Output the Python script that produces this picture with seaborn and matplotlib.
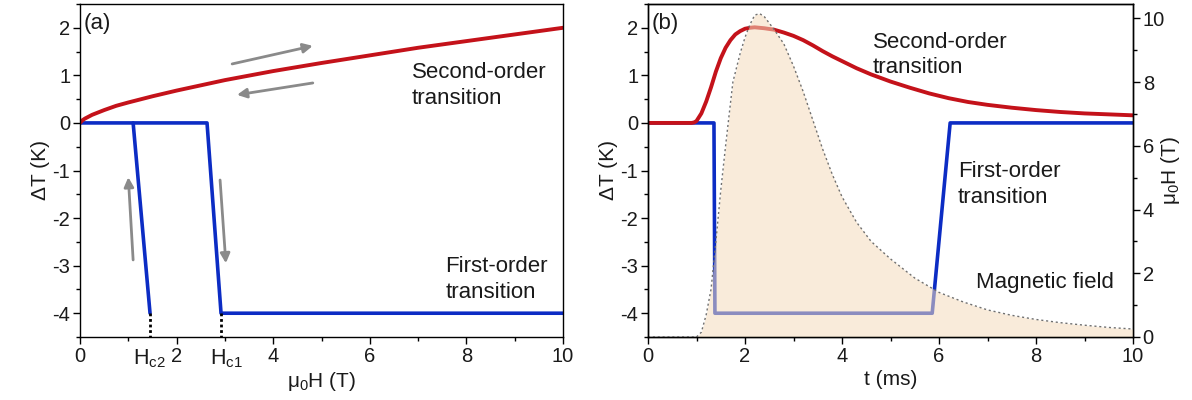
import matplotlib
matplotlib.use("Agg")
import matplotlib.pyplot as plt
import matplotlib.transforms as mtransforms
from matplotlib.ticker import MultipleLocator
import seaborn as sns

# ---------------- data ----------------
# (a) second-order: dT vs field
H_so = [0, 0.05, 0.1, 0.25, 0.5, 0.75, 1, 1.5, 2, 2.5, 3, 4, 5, 6, 7, 8, 9, 10]
dT_so = [0, 0.055, 0.09, 0.17, 0.27, 0.36, 0.43, 0.56, 0.68, 0.79, 0.90, 1.09,
         1.26, 1.42, 1.58, 1.72, 1.86, 2.0]
# (a) first-order hysteresis loop
H_fo_up = [0, 2.63, 2.92, 10]
dT_fo_up = [0, 0, -4, -4]
H_fo_down = [1.10, 1.45]
dT_fo_down = [0, -4]
Hc_values = [1.45, 2.92]
Hc_labels = ["H$_{c2}$", "H$_{c1}$"]

# (b) time dependence
t_so = [0, 0.9, 0.95, 1.0, 1.1, 1.2, 1.3, 1.4, 1.5, 1.6, 1.7, 1.8, 1.9, 2.0,
        2.1, 2.2, 2.3, 2.4, 2.6, 2.8, 3.0, 3.2, 3.4, 3.6, 3.8, 4.0, 4.3, 4.6,
        5.0, 5.4, 5.8, 6.2, 6.6, 7.0, 7.5, 8, 8.5, 9, 9.5, 10]
dTt_so = [0, 0, 0.01, 0.04, 0.2, 0.45, 0.75, 1.08, 1.36, 1.58, 1.74, 1.86,
          1.93, 1.98, 2.0, 2.01, 2.0, 1.99, 1.96, 1.9, 1.83, 1.74, 1.63, 1.51,
          1.40, 1.30, 1.15, 1.02, 0.87, 0.74, 0.62, 0.52, 0.44, 0.38, 0.32,
          0.27, 0.23, 0.2, 0.18, 0.16]
t_fo = [0, 1.36, 1.38, 5.86, 6.23, 10]
dTt_fo = [0, 0, -4, -4, 0, 0]
t_B = [0, 1.0, 1.1, 1.2, 1.3, 1.4, 1.5, 1.6, 1.75, 1.9, 2.0, 2.1, 2.2, 2.3,
       2.4, 2.5, 2.6, 2.8, 3.0, 3.2, 3.4, 3.6, 3.8, 4.0, 4.3, 4.6, 5.0, 5.5,
       6.0, 6.5, 7.0, 7.5, 8, 8.5, 9, 9.5, 10]
B_field = [0, 0, 0.15, 0.7, 1.5, 3.0, 4.6, 6.0, 8.0, 8.9, 9.4, 9.8, 10.1,
           10.15, 10.05, 9.85, 9.65, 9.2, 8.5, 7.7, 6.8, 5.9, 5.1, 4.4, 3.6,
           3.0, 2.45, 1.85, 1.4, 1.1, 0.85, 0.68, 0.55, 0.45, 0.37, 0.3, 0.25]

# ---------------- style ----------------
sns.set_theme(style="ticks")
plt.rcParams["font.family"] = ["Liberation Sans", "DejaVu Sans"]
plt.rcParams["mathtext.fontset"] = "custom"
plt.rcParams["mathtext.rm"] = "Liberation Sans"
plt.rcParams["mathtext.it"] = "Liberation Sans:italic"
plt.rcParams["mathtext.bf"] = "Liberation Sans:bold"
plt.rcParams["mathtext.default"] = "regular"
plt.rcParams["axes.unicode_minus"] = False

RED = "#C4121A"
BLUE = "#0C2CC4"
GRAY = "#8A8A8A"
FILL = "#F5DCBC"
TXTC = "#1a1a1a"
TICK_FS = 14.5
LAB_FS = 15
TXT_FS = 16

fig = plt.figure(figsize=(11.92, 4.0), dpi=100)
axA = fig.add_axes([80 / 1192, 1 - 337 / 400, (563 - 80) / 1192, 333 / 400])
axB = fig.add_axes([648 / 1192, 1 - 337 / 400, (1133 - 648) / 1192, 333 / 400])


def style_axis(ax):
    for s in ax.spines.values():
        s.set_color("black")
        s.set_linewidth(1.0)
    ax.tick_params(axis="both", which="major", direction="out", length=5,
                   width=1, color="black", labelsize=TICK_FS, pad=2,
                   labelcolor=TXTC)
    ax.tick_params(axis="both", which="minor", direction="out", length=3,
                   width=1, color="black")
    ax.tick_params(top=False, right=False, which="both")


# ---------------- panel (a) ----------------
sns.lineplot(x=H_fo_up, y=dT_fo_up, ax=axA, color=BLUE, lw=2.6, sort=False,
             estimator=None)
sns.lineplot(x=H_fo_down, y=dT_fo_down, ax=axA, color=BLUE, lw=2.6,
             sort=False, estimator=None)
sns.lineplot(x=H_so, y=dT_so, ax=axA, color=RED, lw=2.8, sort=False,
             estimator=None)
axA.set_xlim(0, 10)
axA.set_ylim(-4.5, 2.5)
axA.set_xticks([0, 2, 4, 6, 8, 10])
axA.xaxis.set_minor_locator(MultipleLocator(1))
axA.set_yticks([-4, -3, -2, -1, 0, 1, 2])
axA.yaxis.set_minor_locator(MultipleLocator(0.5))
style_axis(axA)
axA.set_xlabel("μ$_0$H (T)", fontsize=LAB_FS, labelpad=3, color=TXTC)
axA.set_ylabel("ΔT (K)", fontsize=LAB_FS, labelpad=2, color=TXTC)

# dotted drop lines and Hc labels
trans = mtransforms.blended_transform_factory(axA.transData, axA.transAxes)
for hc, lab, off in zip(Hc_values, Hc_labels, [-0.02, 0.12]):
    axA.plot([hc, hc], [-4, -4.5], color="black", lw=2, ls=(0, (1, 1)))
    axA.text(hc + off, -0.03, lab, transform=trans, ha="center", va="top",
             fontsize=TICK_FS + 1, color=TXTC)

# arrows
arrow_kw = dict(arrowstyle="-|>", color=GRAY, lw=2, mutation_scale=14,
                shrinkA=0, shrinkB=0)
axA.annotate("", xy=(4.82, 1.62), xytext=(3.15, 1.24), arrowprops=arrow_kw)
axA.annotate("", xy=(3.25, 0.59), xytext=(4.82, 0.84), arrowprops=arrow_kw)
axA.annotate("", xy=(1.0, -1.14), xytext=(1.1, -2.88), arrowprops=arrow_kw)
axA.annotate("", xy=(3.02, -2.95), xytext=(2.9, -1.2), arrowprops=arrow_kw)

axA.text(0.08, 2.1, "(a)", fontsize=TXT_FS, ha="left", va="center",
         color=TXTC)
axA.text(6.87, 1.28, "Second-order\ntransition", fontsize=TXT_FS, ha="left",
         va="top", linespacing=1.3, color=TXTC)
axA.text(7.56, -2.8, "First-order\ntransition", fontsize=TXT_FS, ha="left",
         va="top", linespacing=1.3, color=TXTC)

# ---------------- panel (b) ----------------
sns.lineplot(x=t_fo, y=dTt_fo, ax=axB, color=BLUE, lw=2.6, sort=False,
             estimator=None)
sns.lineplot(x=t_so, y=dTt_so, ax=axB, color=RED, lw=2.8, sort=False,
             estimator=None)
axB.set_xlim(0, 10)
axB.set_ylim(-4.5, 2.5)
axB.set_xticks([0, 2, 4, 6, 8, 10])
axB.xaxis.set_minor_locator(MultipleLocator(1))
axB.set_yticks([-4, -3, -2, -1, 0, 1, 2])
axB.yaxis.set_minor_locator(MultipleLocator(0.5))
style_axis(axB)
axB.set_xlabel("t (ms)", fontsize=LAB_FS, labelpad=3, color=TXTC)
axB.set_ylabel("ΔT (K)", fontsize=LAB_FS, labelpad=2, color=TXTC)

axB2 = axB.twinx()
axB2.fill_between(t_B, 0, B_field, color=FILL, alpha=0.55, lw=0, zorder=1)
sns.lineplot(x=t_B, y=B_field, ax=axB2, color="#707070", lw=1.0,
             ls=(0, (1.5, 2)), sort=False, estimator=None)
axB2.set_ylim(0, 10.45)
axB2.set_yticks([0, 2, 4, 6, 8, 10])
axB2.yaxis.set_minor_locator(MultipleLocator(1))
for s in axB2.spines.values():
    s.set_color("black")
    s.set_linewidth(1.0)
axB2.tick_params(axis="y", which="major", direction="out", length=5, width=1,
                 color="black", labelsize=TICK_FS, pad=2, labelcolor=TXTC)
axB2.tick_params(axis="y", which="minor", direction="out", length=3, width=1,
                 color="black")
axB2.set_ylabel("μ$_0$H (T)", fontsize=LAB_FS, rotation=90, color=TXTC)
axB2.yaxis.set_label_coords(1.077, 0.5)
axB2.yaxis.label.set_verticalalignment("center")
axB2.yaxis.label.set_horizontalalignment("center")

axB.text(0.08, 2.1, "(b)", fontsize=TXT_FS, ha="left", va="center",
         color=TXTC)
axB.text(4.64, 1.92, "Second-order\ntransition", fontsize=TXT_FS, ha="left",
         va="top", linespacing=1.3, color=TXTC)
axB.text(6.39, -0.8, "First-order\ntransition", fontsize=TXT_FS, ha="left",
         va="top", linespacing=1.3, color=TXTC)
axB.text(6.76, -3.35, "Magnetic field", fontsize=TXT_FS, ha="left",
         va="center", color=TXTC)

fig.savefig("out.png", dpi=100)
